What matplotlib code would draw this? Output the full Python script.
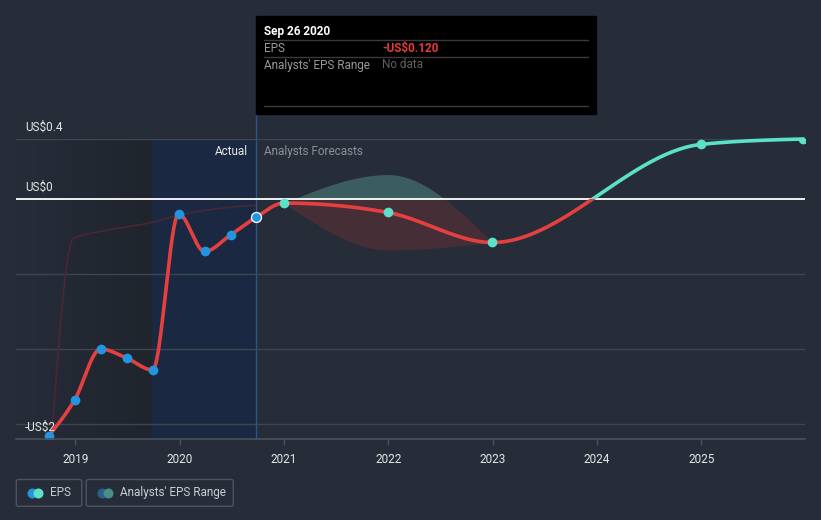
import numpy as np
import pandas as pd
import matplotlib
matplotlib.use("Agg")
import matplotlib.pyplot as plt
from matplotlib.patches import Rectangle, FancyBboxPatch
from matplotlib.lines import Line2D
from matplotlib.colors import LinearSegmentedColormap

plt.rcParams['font.family'] = ['Roboto', 'DejaVu Sans']

# ---------------- data ----------------
actual_dates = ["2018-09-29", "2018-12-29", "2019-03-30", "2019-06-29", "2019-09-28",
                "2019-12-28", "2020-03-28", "2020-06-27", "2020-09-26"]
actual_eps = [-1.58, -1.34, -1.00, -1.06, -1.14, -0.10, -0.35, -0.24, -0.12]

forecast_dates = ["2020-12-31", "2021-12-31", "2022-12-31", "2024-12-31", "2025-12-24"]
forecast_eps = [-0.027, -0.09, -0.29, 0.364, 0.40]

range_dates = ["2020-12-31", "2021-12-31", "2022-12-31"]
range_high = [-0.027, 0.163, -0.29]
range_low = [-0.027, -0.34, -0.29]

past_fc_dates = ["2018-10-10", "2018-12-24", "2019-03-30", "2019-09-25", "2019-12-24", "2020-09-26"]
past_fc_eps = [-1.58, -0.265, -0.216, -0.156, -0.11, -0.04]

year_ticks = [2019, 2020, 2021, 2022, 2023, 2024, 2025]
y_labels = {0.4: "US$0.4", 0.0: "US$0", -1.6: "-US$2"}
grid_values = [0.4, -0.5, -1.0, -1.5]

# ---------------- helpers ----------------
def dec_year(dates):
    d = pd.to_datetime(pd.Series(dates))
    days = np.where(d.dt.is_leap_year, 366.0, 365.0)
    return (d.dt.year + (d.dt.dayofyear - 0.5) / days).to_numpy()


def monotone(x, y, n=60):
    x = np.asarray(x, float); y = np.asarray(y, float)
    h = np.diff(x); s = np.diff(y) / h
    m = np.zeros_like(y)
    for k in range(1, len(x) - 1):
        s0, s1 = s[k - 1], s[k]
        p = (s0 * h[k] + s1 * h[k - 1]) / (h[k - 1] + h[k])
        m[k] = (np.sign(s0) + np.sign(s1)) * min(abs(s0), abs(s1), 0.5 * abs(p))
    if len(x) > 2:
        m[0] = (3 * s[0] - m[1]) / 2
        m[-1] = (3 * s[-1] - m[-2]) / 2
    else:
        m[0] = m[-1] = s[0]
    xs, ys = [], []
    for k in range(len(x) - 1):
        t = np.linspace(0, 1, n)
        h00 = 2 * t**3 - 3 * t**2 + 1
        h10 = t**3 - 2 * t**2 + t
        h01 = -2 * t**3 + 3 * t**2
        h11 = t**3 - t**2
        xs.append(x[k] + t * h[k])
        ys.append(h00 * y[k] + h10 * h[k] * m[k] + h01 * y[k + 1] + h11 * h[k] * m[k + 1])
    return np.concatenate(xs), np.concatenate(ys)


W, H = 821, 520
BG = "#262d39"

def fx(px):
    return px / W

def fy(py):
    return 1 - py / H

fig = plt.figure(figsize=(W / 100, H / 100), dpi=100, facecolor=BG)

# plot area: px x 16..805, y 139..439
ax = fig.add_axes([fx(16), fy(439), fx(805) - fx(16), fy(139) - fy(439)])
ax.set_facecolor(BG)
x0 = 2019 + (16 - 75.3) / 104.33
x1 = 2019 + (805 - 75.3) / 104.33
ax.set_xlim(x0, x1)
ax.set_ylim(-1.6, 0.4)

ax_x = dec_year(actual_dates)
fc_x = dec_year(forecast_dates)
rg_x = dec_year(range_dates)
pf_x = dec_year(past_fc_dates)

last_actual = ax_x[-1]
split = last_actual - 1.0

# background regions
grad = np.linspace(0, 1, 256).reshape(1, -1)
cmap = LinearSegmentedColormap.from_list("g", [BG, "#1f242d"])
ax.imshow(grad, extent=[x0, split, -1.6, 0.4], aspect="auto", cmap=cmap, zorder=0.5)
ax.axvspan(split, last_actual, color="#1a2941", zorder=0.6, lw=0)

# grid lines
for g in grid_values:
    ax.axhline(g, color="#3e4450", lw=1, zorder=1)
ax.axhline(0, color="white", lw=1.3, zorder=4)

# past forecast faint line
pxs, pys = monotone(pf_x, past_fc_eps)
ax.plot(pxs, pys, color="#4a2733", lw=1.2, zorder=2)

# analysts range band, coloured by sign
bx, bh = monotone(rg_x, range_high)
_, bl = monotone(rg_x, range_low)
ax.fill_between(bx, np.maximum(bl, 0), np.maximum(bh, 0), color="#3b5d60", lw=0, zorder=2)
ax.fill_between(bx, np.minimum(bl, 0), np.minimum(bh, 0), color="#462e37", lw=0, zorder=2)

# EPS line (actual + forecast), red below zero, cyan above
all_x = np.concatenate([ax_x, fc_x])
all_y = np.concatenate([actual_eps, forecast_eps])
lx, ly = monotone(all_x, all_y)
red_line, = ax.plot(lx, ly, color="#e5403f", lw=2.6, zorder=5, solid_capstyle="round")
cyan_line, = ax.plot(lx, ly, color="#5ce1c9", lw=2.6, zorder=5, solid_capstyle="round")
clip_neg = Rectangle((x0 - 1, -5), 20, 5, transform=ax.transData)
clip_pos = Rectangle((x0 - 1, 0), 20, 5, transform=ax.transData)
red_line.set_clip_path(clip_neg)
cyan_line.set_clip_path(clip_pos)

# markers
ax.plot(ax_x[:-1], actual_eps[:-1], "o", color="#2394df", ms=7, mew=0, zorder=6)
ax.plot(ax_x[-1:], actual_eps[-1:], "o", color="#2394df", ms=7.2, mec="white", mew=0.9, zorder=6)
ax.plot(fc_x, forecast_eps, "o", color="#5ce1c9", ms=7, mew=0, zorder=6)

# vertical divider at last actual
ax.axvline(last_actual, ymin=0, ymax=(439 - 114) / 300, color="#2b5488", lw=1,
           zorder=3, clip_on=False)

# axes styling
for s in ["top", "right", "left"]:
    ax.spines[s].set_visible(False)
ax.spines["bottom"].set_color("#4a505b")
ax.spines["bottom"].set_linewidth(1.2)
ax.spines["bottom"].set_zorder(7)
ax.set_yticks([])
ax.set_xticks(year_ticks)
ax.set_xticklabels([str(y) for y in year_ticks])
ax.tick_params(axis="x", colors="#4a505b", length=4, width=1, pad=6,
               labelcolor="#e6e6e6", labelsize=8.5)

# y labels
for v, lab in y_labels.items():
    py = 199.3 - 150 * v
    fig.text(fx(25), fy(py - 12), lab, color="#e6e6e6", fontsize=8.5,
             ha="left", va="center")

# Actual / Analysts Forecasts
fig.text(fx(248), fy(151), "Actual", color="#e6e6e6", fontsize=8.5, ha="right", va="center")
fig.text(fx(264), fy(151), "Analysts Forecasts", color="#8b9099", fontsize=8.5,
         ha="left", va="center")

# tooltip
fig.patches.append(Rectangle((fx(256), fy(114)), fx(596) - fx(256), fy(16) - fy(114),
                             transform=fig.transFigure, color="black", zorder=10))
for py in [40.3, 57.3, 106.3]:
    fig.add_artist(Line2D([fx(264), fx(588)], [fy(py), fy(py)], color="#3a3a3a",
                          lw=1, transform=fig.transFigure, zorder=11))
fig.text(fx(264), fy(31), "Sep 26 2020", color="white", fontsize=8.5,
         fontweight="bold", ha="left", va="center", zorder=12)
fig.text(fx(264), fy(48.5), "EPS", color="#9a9a9a", fontsize=8.5, ha="left",
         va="center", zorder=12)
fig.text(fx(382), fy(48.5), "-US$0.120", color="#e5393c", fontsize=8.5,
         fontweight="bold", ha="left", va="center", zorder=12)
fig.text(fx(264), fy(65), "Analysts' EPS Range", color="#9a9a9a", fontsize=8.5,
         ha="left", va="center", zorder=12)
fig.text(fx(382), fy(65), "No data", color="#5e5e5e", fontsize=8.5, ha="left",
         va="center", zorder=12)

# legend
def legend_box(left, right, c1, c2, label):
    fig.patches.append(FancyBboxPatch((fx(left), fy(506.3)), fx(right) - fx(left),
                                      fy(479.5) - fy(506.3),
                                      boxstyle="round,pad=0,rounding_size=0.003",
                                      transform=fig.transFigure, fc="none",
                                      ec="#4d535e", lw=1, zorder=10))
    fig.add_artist(Line2D([fx(left + 15.5)], [fy(492.5)], marker="o", ms=7.2,
                          color=c1, mew=0, transform=fig.transFigure, zorder=11))
    fig.add_artist(Line2D([fx(left + 21.3)], [fy(492.5)], marker="o", ms=7.2,
                          color=c2, mew=0, transform=fig.transFigure, zorder=12))
    fig.text(fx(left + 34), fy(492.5), label, color="#c9cdd3", fontsize=8.5,
             ha="left", va="center", zorder=12)

legend_box(16.3, 81.7, "#2394df", "#5ce1c9", "EPS")
legend_box(86.3, 233.3, "#2a5f8c", "#4b8c89", "Analysts' EPS Range")

fig.savefig("out.png", dpi=100, facecolor=BG)
